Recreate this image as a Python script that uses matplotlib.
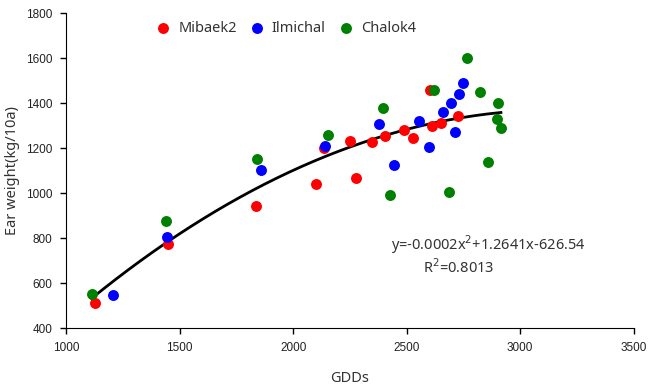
import numpy as np
import matplotlib
matplotlib.use('Agg')
import matplotlib.pyplot as plt

# --- valores ---
mibaek2_gdd = [1127, 1448, 1838, 2102, 2134, 2252, 2277, 2346, 2404, 2490, 2528, 2601, 2611, 2652, 2728]
mibaek2_ear = [512, 775, 944, 1039, 1199, 1232, 1066, 1229, 1253, 1281, 1247, 1459, 1299, 1311, 1345]

ilmichal_gdd = [1206, 1443, 1857, 2141, 2379, 2442, 2553, 2598, 2659, 2694, 2711, 2732, 2747]
ilmichal_ear = [547, 806, 1104, 1211, 1307, 1126, 1321, 1207, 1360, 1400, 1271, 1441, 1491]

chalok4_gdd = [1112, 1442, 1842, 2153, 2397, 2427, 2620, 2686, 2766, 2824, 2860, 2897, 2900, 2915]
chalok4_ear = [551, 876, 1152, 1258, 1380, 990, 1459, 1005, 1600, 1451, 1137, 1330, 1400, 1291]

# coeficientes da linha de tendência mostrados no gráfico
coef = [-0.0002, 1.2641, -626.54]
eq_texto = 'y=-0.0002x$^2$+1.2641x-626.54'
r2_texto = 'R$^2$=0.8013'

fig = plt.figure(figsize=(6.48, 3.86), dpi=100)
ax = fig.add_axes([0.102, 0.150, 0.876, 0.8155])

todos_x = mibaek2_gdd + ilmichal_gdd + chalok4_gdd
xs = np.linspace(min(todos_x), max(todos_x), 200)
ax.plot(xs, np.polyval(coef, xs), color='black', linewidth=2, zorder=1)

ax.scatter(mibaek2_gdd, mibaek2_ear, s=62, color='#ff0000', label='Mibaek2', zorder=2, linewidths=0)
ax.scatter(ilmichal_gdd, ilmichal_ear, s=62, color='#0000ff', label='Ilmichal', zorder=3, linewidths=0)
ax.scatter(chalok4_gdd, chalok4_ear, s=62, color='#008000', label='Chalok4', zorder=4, linewidths=0)

ax.set_xlim(1000, 3500)
ax.set_ylim(400, 1800)
ax.set_xticks(range(1000, 3501, 500))
ax.set_yticks(range(400, 1801, 200))

for lbl in ax.get_xticklabels() + ax.get_yticklabels():
    lbl.set_fontfamily('Liberation Sans')
    lbl.set_fontsize(8.5)
    lbl.set_color('#222222')
ax.tick_params(direction='out', length=4, width=1, pad=6)

ax.spines['top'].set_visible(False)
ax.spines['right'].set_visible(False)

ax.set_xlabel('GDDs', fontfamily='Noto Sans', fontsize=10.5, color='#333333', labelpad=12)
ax.set_ylabel('Ear weight(kg/10a)', fontfamily='Noto Sans', fontsize=10.5, color='#333333', labelpad=4)

leg = ax.legend(loc='upper left', bbox_to_anchor=(0.135, 0.995), ncol=3, frameon=False,
                handletextpad=0.05, columnspacing=0.35, borderaxespad=0,
                prop={'family': 'Noto Sans', 'size': 10.5})
for t in leg.get_texts():
    t.set_color('#333333')

ax.text(2861, 769, eq_texto, ha='center', va='center', fontsize=10.5,
        fontfamily='Noto Sans', color='#333333')
ax.text(2730, 667, r2_texto, ha='center', va='center', fontsize=10.5,
        fontfamily='Noto Sans', color='#333333')

fig.savefig('out.png', dpi=100)
plt.close(fig)
